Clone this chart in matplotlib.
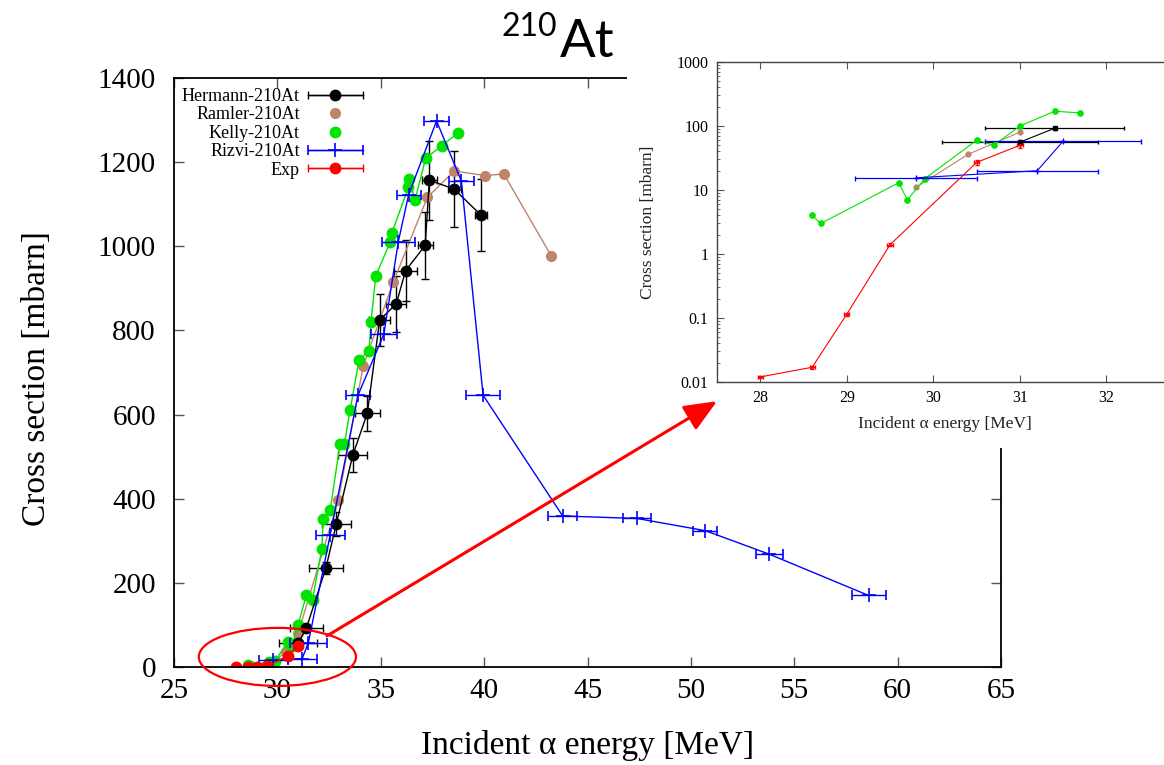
import matplotlib.pyplot as plt
import numpy as np
from matplotlib.patches import Ellipse, Rectangle
from matplotlib.container import ErrorbarContainer
from matplotlib.legend_handler import HandlerErrorbar
from matplotlib.ticker import FuncFormatter, LogLocator, NullFormatter

plt.rcParams['font.family'] = ['Liberation Serif', 'DejaVu Serif']

# Hermann-210At
herm_e = np.array([31.0, 31.4, 32.35, 32.85, 33.65, 34.35, 34.95, 35.75, 36.2, 37.15, 37.35, 38.55, 39.85])
herm_s = np.array([56, 92, 236, 340, 504, 603, 825, 863, 942, 1002, 1157, 1136, 1074])
herm_de = np.array([0.9, 0.8, 0.82, 0.7, 0.7, 0.6, 0.5, 0.48, 0.55, 0.36, 0.36, 0.32, 0.28])
herm_ds = np.array([4, 6, 14, 28, 40, 42, 62, 67, 73, 80, 94, 91, 86])

# Ramler-210At
ram_e = np.array([29.8, 30.4, 31.0, 32.95, 34.15, 35.6, 37.25, 38.55, 40.05, 40.95, 43.25])
ram_s = np.array([11, 36, 80, 397, 715, 914, 1116, 1179, 1168, 1172, 977])

# Kelly-210At
kel_e = np.array([28.6, 28.7, 29.6, 29.7, 29.9, 30.5, 30.7, 31.0, 31.4, 31.7, 32.15, 32.22, 32.55,
                  33.03, 33.24, 33.52, 33.95, 34.43, 34.53, 34.76, 35.45, 35.53, 36.34, 36.37,
                  36.66, 37.17, 37.95, 38.75])
kel_s = np.array([4, 3, 13, 7, 15, 60, 50, 100, 170, 160, 281, 351, 372,
                  530, 530, 611, 730, 751, 821, 930, 1009, 1031, 1140, 1160,
                  1110, 1209, 1239, 1270])

# Rizvi-210At
riz_e = np.array([29.8, 31.2, 31.5, 32.55, 33.9, 35.15, 35.85, 36.35, 37.7, 38.9, 39.95,
                  43.8, 47.4, 50.7, 53.8, 58.6])
riz_s = np.array([15.5, 20, 58, 313, 646, 791, 1011, 1123, 1298, 1155, 646,
                  359, 353, 324, 268, 170])
riz_de = np.array([0.7, 0.7, 0.9, 0.7, 0.6, 0.63, 0.8, 0.58, 0.6, 0.6, 0.82,
                   0.69, 0.68, 0.58, 0.65, 0.82])

# Exp
exp_e = np.array([28.0, 28.6, 29.0, 29.5, 30.5, 31.0])
exp_s = np.array([0.012, 0.017, 0.115, 1.4, 27, 50])
exp_de = np.array([0.03, 0.03, 0.03, 0.03, 0.03, 0.03])
exp_ds = np.array([0.0006, 0.0009, 0.006, 0.07, 2.5, 4])

c_herm = 'black'
c_ram = '#c0846c'
c_kel = '#00e400'
c_riz = '#0000ff'
c_exp = '#ff0000'

fig = plt.figure(figsize=(11.64, 7.65), dpi=100)
ax = fig.add_axes([174/1164, 98/765, 827/1164, 589/765])

# main linear plot
h_herm = ax.errorbar(herm_e, herm_s, xerr=herm_de, fmt='o-', color=c_herm, ms=7.5, lw=1.0,
                     elinewidth=1.0, capsize=3, label='Hermann-210At')
ax.errorbar(herm_e, herm_s, yerr=herm_ds, fmt='none', ecolor=c_herm, elinewidth=1.0, capsize=3)

ax.plot(ram_e, ram_s, '-', color=c_ram, lw=1.0)
h_ram, = ax.plot(ram_e, ram_s, 'o', color=c_ram, ms=7, label='Ramler-210At')

ax.plot(kel_e, kel_s, '-', color=c_kel, lw=1.0)
h_kel, = ax.plot(kel_e, kel_s, 'o', color=c_kel, ms=7.5, label='Kelly-210At')

h_riz = ax.errorbar(riz_e, riz_s, xerr=riz_de, fmt='+-', color=c_riz, ms=10, mew=1.2, lw=1.0,
                    elinewidth=1.0, capsize=3.5, label='Rizvi-210At')

h_exp = ax.errorbar(exp_e, exp_s, xerr=exp_de, fmt='o-', color=c_exp, ms=7.5, lw=1.0,
                    elinewidth=1.0, capsize=3, label='Exp')
ax.errorbar(exp_e, exp_s, yerr=exp_ds, fmt='none', ecolor=c_exp, elinewidth=1.0, capsize=2)

ax.set_xlim(25, 65)
ax.set_ylim(0, 1400)
ax.set_xticks(np.arange(25, 66, 5))
ax.set_yticks(np.arange(0, 1401, 200))
ax.tick_params(direction='in', top=True, right=True, length=7, width=1.0, color='#555555',
               labelsize=21)
ax.tick_params(axis='x', pad=8)
ax.tick_params(axis='y', pad=13)
for sp in ax.spines.values():
    sp.set_linewidth(1.3)
ax.set_xlabel('Incident α energy [MeV]', fontsize=24)
ax.set_ylabel('Cross section [mbarn]', fontsize=24)
ax.xaxis.set_label_coords(0.5, -0.107)
ax.yaxis.set_label_coords(-0.148, 0.49)

ax.legend([h_herm, h_ram, h_kel, h_riz, h_exp],
          ['Hermann-210At', 'Ramler-210At', 'Kelly-210At', 'Rizvi-210At', 'Exp'],
          loc='upper right', bbox_to_anchor=(0.2285, 0.983), frameon=False,
          markerfirst=False, numpoints=1, fontsize=13, handlelength=3.05,
          handletextpad=0.45, labelspacing=0.08, borderpad=0, borderaxespad=0,
          handler_map={ErrorbarContainer: HandlerErrorbar(xerr_size=1.52)})

# highlight the threshold region
ax.add_patch(Ellipse((30.0, 24), width=7.6, height=138, fill=False, ec='red', lw=1.6,
                     clip_on=False, zorder=6))

# white panel behind the log-scale zoom
fig.add_artist(Rectangle((627/1164, 1 - 448/765), 1 - 627/1164, 448/765,
                         transform=fig.transFigure, facecolor='white', edgecolor='none', zorder=1))

# log-scale zoom on the low-energy part
axins = fig.add_axes([717/1164, 1 - 382/765, 476/1164, 320/765], zorder=2)
m = herm_e < 32
axins.errorbar(herm_e[m], herm_s[m], xerr=herm_de[m], yerr=herm_ds[m], fmt='s-', color=c_herm,
               ms=3, lw=0.8, elinewidth=0.9, capsize=1.5)
m = ram_e < 32
axins.plot(ram_e[m], ram_s[m], 'o-', color=c_ram, ms=3.5, lw=0.8)
m = kel_e < 32
axins.plot(kel_e[m], kel_s[m], 'o-', color=c_kel, ms=3.8, lw=0.8)
m = riz_e < 32
axins.errorbar(riz_e[m], riz_s[m], xerr=riz_de[m], fmt='+-', color=c_riz, ms=4, lw=0.8,
               elinewidth=0.9, capsize=1.8)
axins.errorbar(exp_e, exp_s, xerr=exp_de, yerr=exp_ds, fmt='.-', color=c_exp, ms=2.5, lw=0.8,
               elinewidth=0.9, capsize=1.5)

axins.set_yscale('log')
axins.set_xlim(27.5, 33.0)
axins.set_ylim(0.01, 1000)
axins.set_xticks([28, 29, 30, 31, 32])
axins.yaxis.set_major_locator(LogLocator(base=10, numticks=10))
axins.yaxis.set_minor_locator(LogLocator(base=10, subs=np.arange(2, 10), numticks=10))
axins.yaxis.set_major_formatter(FuncFormatter(lambda v, p: '%g' % v))
axins.yaxis.set_minor_formatter(NullFormatter())
axins.tick_params(which='both', direction='in', top=True, right=True, color='#555555',
                  labelsize=11.5, pad=6)
axins.tick_params(which='major', length=5, width=0.8)
axins.tick_params(which='minor', length=2.5, width=0.6)
for sp in axins.spines.values():
    sp.set_linewidth(1.0)
    sp.set_color('#444444')
axins.set_xlabel('Incident α energy [MeV]', fontsize=12.5, color='#222222')
axins.set_ylabel('Cross section [mbarn]', fontsize=12.5, color='#222222')
axins.xaxis.set_label_coords(0.479, -0.105)
axins.yaxis.set_label_coords(-0.128, 0.5)

# arrow from the circled region to the zoom panel
axins.annotate('', xy=(0.0, -0.06), xycoords='axes fraction',
               xytext=(32.4, 74), textcoords=ax.transData,
               arrowprops=dict(arrowstyle='-|>,head_length=0.4,head_width=0.17',
                               mutation_scale=50, color='red', lw=2.2,
                               shrinkA=0, shrinkB=0),
               annotation_clip=False)

# nuclide title
fig.text(560/1164, 1 - 57/765, 'At', fontsize=38, family='Lato', ha='left', va='baseline')
fig.text(557/1164, 1 - 36/765, '210', fontsize=23, family='Lato', ha='right', va='baseline')

fig.savefig('out.png', dpi=100)
